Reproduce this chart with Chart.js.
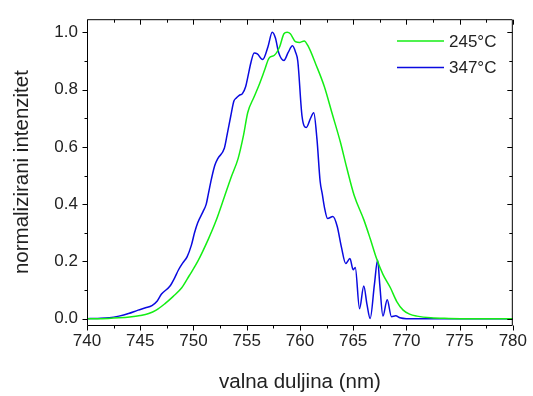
<!DOCTYPE html>
<html>
<head>
<meta charset="utf-8">
<script src="https://cdn.jsdelivr.net/npm/chart.js@4.4.0/dist/chart.umd.min.js"></script>
<style>
    html, body { margin: 0; padding: 0; background: #fff; }
    #wrap { width: 533px; height: 396px; }
</style>
</head>
<body>
<div id="wrap"><canvas id="spectrumChart" width="533" height="396"></canvas></div>
<script>
// ===== Data =====
const seriesLabels = ['245°C', '347°C'];

// 245°C
const wlGreen = [740, 741, 742, 743, 744, 745, 745.8, 746.5, 747.3, 748.1, 748.9, 749.6, 750.4, 751.4, 752.1,
    752.9, 753.5, 754.2, 754.7, 755.1, 755.7, 756.2, 756.7, 757.1, 757.6, 758.1, 758.5, 758.8, 759.1, 759.6,
    760.0, 760.4, 760.8, 761.5, 762.3, 763.0, 763.8, 764.4, 765.1, 766.0, 766.6, 767.2, 767.8, 768.5, 769.1,
    769.7, 770.3, 771.0, 772.3, 774, 776, 780];
const intGreen = [0, 0, 0.001, 0.003, 0.006, 0.011, 0.018, 0.03, 0.052, 0.078, 0.108, 0.15, 0.2, 0.278, 0.34,
    0.425, 0.49, 0.56, 0.64, 0.72, 0.775, 0.82, 0.87, 0.91, 0.92, 0.95, 0.995, 1.0, 0.995, 0.967,
    0.965, 0.97, 0.95, 0.888, 0.81, 0.72, 0.617, 0.527, 0.43, 0.346, 0.28, 0.21, 0.155, 0.108, 0.06,
    0.03, 0.016, 0.009, 0.003, 0.001, 0, 0];

// 347°C
const wlBlue = [740, 741, 742.1, 743, 743.9, 744.8, 745.5, 746.1, 746.6, 747.0, 747.8, 748.2, 748.6, 749.0, 749.4,
    749.8, 750.1, 750.4, 750.9, 751.2, 751.4, 751.7, 752.0, 752.3, 752.9, 753.2, 753.5, 753.8, 754.0, 754.3,
    754.6, 754.9, 755.1, 755.4, 755.7, 756.0, 756.5, 757.0, 757.4, 757.7, 758.0, 758.5, 758.9, 759.3, 759.6,
    759.8, 760.2, 760.6, 761.0, 761.3, 761.6, 761.9, 762.1, 762.3, 762.6, 763.1, 763.5, 763.9, 764.3, 764.7,
    765.0, 765.2, 765.6, 766.0, 766.3, 766.6, 767.0, 767.3, 767.5, 767.8, 768.2, 768.6, 769.0, 769.4, 770, 780];
const intBlue = [0, 0.001, 0.003, 0.009, 0.018, 0.03, 0.038, 0.046, 0.062, 0.086, 0.114, 0.14, 0.171, 0.195, 0.216,
    0.256, 0.3, 0.335, 0.374, 0.40, 0.436, 0.49, 0.535, 0.56, 0.595, 0.65, 0.707, 0.76, 0.77, 0.78,
    0.786, 0.81, 0.843, 0.895, 0.928, 0.925, 0.905, 0.95, 1.0, 0.98, 0.93, 0.902, 0.93, 0.953, 0.93,
    0.90, 0.707, 0.668, 0.70, 0.719, 0.628, 0.48, 0.436, 0.39, 0.35, 0.357, 0.323, 0.25, 0.193, 0.21,
    0.171, 0.179, 0.035, 0.114, 0.05, 0.001, 0.12, 0.205, 0.12, 0.009, 0.066, 0.007, 0.01, 0.003, 0, 0];

// ===== Axis ticks =====
const xTicks = [740, 745, 750, 755, 760, 765, 770, 775, 780];
const xMinorTicks = [742.5, 747.5, 752.5, 757.5, 762.5, 767.5, 772.5, 777.5];
const yTicks = [0, 0.2, 0.4, 0.6, 0.8, 1.0];
const yMinorTicks = [0.1, 0.3, 0.5, 0.7, 0.9];

const colors = {
    green: '#14ee14',
    blue: '#0a0ae0',
    axis: '#000000',
    text: '#222222'
};

const FONT = "'Liberation Sans', Arial, sans-serif";

// ===== Frame + ticks (Origin style box) =====
const framePlugin = {
    id: 'frame',
    afterDatasetsDraw(chart) {
        const { ctx, chartArea: a, scales: { x, y } } = chart;
        const L = a.left + 0.5, R = a.right - 0.5, T = a.top + 0.5, B = a.bottom + 0.5;
        ctx.save();
        ctx.strokeStyle = colors.axis;
        ctx.lineWidth = 1;
        ctx.beginPath();
        ctx.rect(L, T, R - L, B - T);
        ctx.stroke();

        ctx.beginPath();
        const xt = (v, len) => {
            const px = Math.round(x.getPixelForValue(v)) + 0.5;
            ctx.moveTo(px, B); ctx.lineTo(px, B + len);   // bottom, outward
            ctx.moveTo(px, T); ctx.lineTo(px, T + len);   // top, inward
        };
        const yt = (v, len) => {
            const py = Math.round(y.getPixelForValue(v)) + 0.5;
            ctx.moveTo(L, py); ctx.lineTo(L - len, py);   // left, outward
            ctx.moveTo(R, py); ctx.lineTo(R - len, py);   // right, inward
        };
        xTicks.forEach(v => xt(v, 5));
        xMinorTicks.forEach(v => xt(v, 3));
        yTicks.forEach(v => yt(v, 5));
        yMinorTicks.forEach(v => yt(v, 3));
        ctx.stroke();
        ctx.restore();
    }
};

// ===== Legend (top right, inside plot) =====
const legendPlugin = {
    id: 'insideLegend',
    afterDatasetsDraw(chart) {
        const { ctx } = chart;
        const x0 = 397, x1 = 444, rows = [41, 67.5];
        ctx.save();
        ctx.font = '17px ' + FONT;
        ctx.textBaseline = 'middle';
        ctx.textAlign = 'left';
        chart.data.datasets.forEach((ds, i) => {
            ctx.strokeStyle = ds.borderColor;
            ctx.lineWidth = 1.5;
            ctx.beginPath();
            ctx.moveTo(x0, rows[i]);
            ctx.lineTo(x1, rows[i]);
            ctx.stroke();
            ctx.fillStyle = colors.text;
            ctx.fillText(ds.label, x1 + 5, rows[i] + 1);
        });
        ctx.restore();
    }
};

const toPoints = (xs, ys) => xs.map((v, i) => ({ x: v, y: ys[i] }));

new Chart(document.getElementById('spectrumChart'), {
    type: 'line',
    data: {
        datasets: [
            {
                label: seriesLabels[0],
                data: toPoints(wlGreen, intGreen),
                borderColor: colors.green,
                borderWidth: 1.5,
                pointRadius: 0,
                cubicInterpolationMode: 'monotone',
                fill: false
            },
            {
                label: seriesLabels[1],
                data: toPoints(wlBlue, intBlue),
                borderColor: colors.blue,
                borderWidth: 1.5,
                pointRadius: 0,
                cubicInterpolationMode: 'monotone',
                fill: false
            }
        ]
    },
    options: {
        responsive: false,
        animation: false,
        layout: { padding: { top: 10, right: 16, left: 0, bottom: 0 } },
        plugins: {
            legend: { display: false },
            tooltip: { enabled: false }
        },
        scales: {
            x: {
                type: 'linear',
                min: 740,
                max: 780,
                border: { display: false },
                grid: { display: false, drawTicks: false },
                afterBuildTicks: (scale) => { scale.ticks = xTicks.map(v => ({ value: v })); },
                afterFit: (scale) => { scale.height = 71; },
                ticks: {
                    padding: 6,
                    color: colors.text,
                    font: { family: FONT, size: 17 },
                    maxRotation: 0,
                    callback: (v) => v
                },
                title: {
                    display: true,
                    text: 'valna duljina (nm)',
                    color: colors.text,
                    font: { family: FONT, size: 20.5 },
                    padding: { top: 0, bottom: 1 }
                }
            },
            y: {
                type: 'linear',
                min: -0.022,
                max: 1.046,
                border: { display: false },
                grid: { display: false, drawTicks: false },
                afterBuildTicks: (scale) => { scale.ticks = yTicks.map(v => ({ value: v })); },
                afterFit: (scale) => { scale.width = 87; },
                ticks: {
                    padding: 9,
                    color: colors.text,
                    font: { family: FONT, size: 17 },
                    callback: (v) => Number(v).toFixed(1)
                },
                title: {
                    display: true,
                    text: 'normalizirani intenzitet',
                    color: colors.text,
                    font: { family: FONT, size: 20.5 },
                    padding: { top: 10, bottom: 0 }
                }
            }
        }
    },
    plugins: [framePlugin, legendPlugin]
});
</script>
</body>
</html>
